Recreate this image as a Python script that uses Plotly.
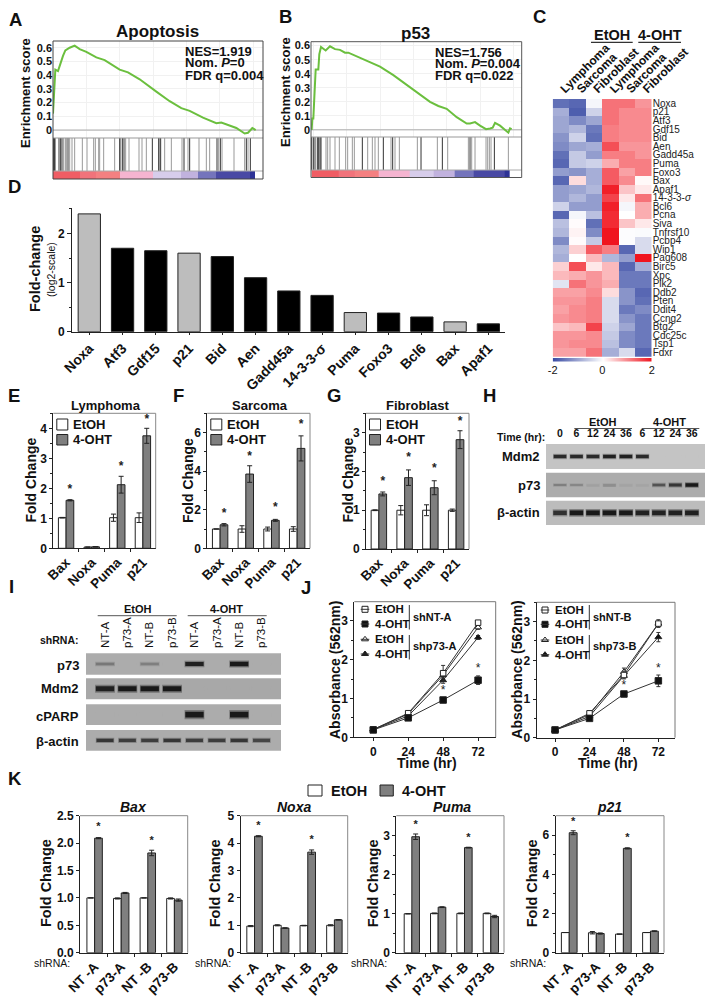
import plotly.graph_objects as go

W, H = 714, 997
FONT = "Liberation Sans"
DARK = "#222222"
GRAYBAR = "#7f7f7f"

# ---------- data ----------
es_a_rank = [160,163,167,175,180,190,197,210,225,240,260,290,315,360,385,420,470,510,545,570,610,650,665,690,710,735,745,758,768]
es_a_val = [0.12,0.3,0.44,0.43,0.47,0.54,0.58,0.60,0.615,0.59,0.57,0.53,0.51,0.44,0.42,0.37,0.28,0.21,0.16,0.14,0.09,0.05,0.055,0.03,0.015,-0.025,-0.02,0.015,0.0]
hits_a_dark = [160,162,164,166,178,183,187,205,360,368,373,458,477,483,553,570,652,662,740,752]
hits_a_gray = [192,197,200,210,217,225,248,262,282,287,297,300,312,345,363,378,388,418,427,440,480,495,515,547,565,598,620,630,657,667,703,735,745]
es_b_rank = [155,157,160,163,167,175,178,183,197,210,225,240,255,265,285,305,325,360,400,440,480,510,535,560,590,620,630,645,660,678,690,698,705,720,745,750,755]
es_b_val = [0.0,0.08,0.08,0.3,0.43,0.43,0.54,0.59,0.565,0.595,0.575,0.57,0.55,0.55,0.53,0.505,0.49,0.45,0.39,0.32,0.25,0.2,0.17,0.15,0.09,0.045,0.045,0.055,0.03,0.005,0.01,0.015,0.05,0.03,-0.02,0.01,0.005]
hits_b_dark = [155,160,165,172,176,180,183,307,370,398,483,547,630,703]
hits_b_gray = [198,203,210,225,238,257,263,277,283,323,337,345,355,393,405,418,472,532,563,625,635,645,678,683,688,693,745]
metric_edges_a = [160,240,290,362,460,545,595,650,750,765]
metric_edges_b = [155,235,285,355,450,520,585,640,735,750]
metric_vals = [1.7,1.3,1.05,0.45,-0.2,-0.45,-1.05,-1.55,-2.0]
metric_scale = [[0,"rgb(45,50,150)"],[0.12,"rgb(75,75,165)"],[0.25,"rgb(120,120,190)"],[0.38,"rgb(190,175,220)"],[0.45,"rgb(215,205,235)"],[0.6,"rgb(245,185,215)"],[0.75,"rgb(245,130,130)"],[0.85,"rgb(240,110,120)"],[1,"rgb(240,75,80)"]]

genes = ["Noxa","p21","Atf3","Gdf15","Bid","Aen","Gadd45a","Puma","Foxo3","Bax","Apaf1","14-3-3-<i>σ</i>","Bcl6","Pcna","Siva","Tnfrsf10","Pcbp4","Wip1","Pag608","Birc5","Xpc","Plk2","Ddb2","Pten","Ddit4","Ccng2","Btg2","Cdc25c","Tsp1","Fdxr"]
heat_cols = ["Lymphoma","Sarcoma","Fibroblast","Lymphoma ","Sarcoma ","Fibroblast "]
heat_z = [
 [-1.6,-1.7,-0.1,1.2,1.2,0.9],[-0.9,-1.8,-0.5,1.2,1.0,1.0],[-1.0,-1.3,-1.0,1.2,1.0,1.0],
 [-1.0,-0.8,-1.5,1.1,1.0,1.0],[-1.2,-0.5,-1.6,1.1,1.0,1.0],[-1.3,-1.0,-0.9,1.5,0.9,0.9],
 [-1.6,-0.6,-1.1,1.1,1.1,0.9],[-1.7,-0.6,-0.5,0.7,1.1,1.1],[-1.1,-1.2,-0.9,1.4,0.8,1.1],
 [-1.7,0.3,-0.9,1.4,1.0,0.05],[-1.1,-1.0,-0.8,1.9,0.5,0.2],[-1.1,-0.8,-1.1,1.6,0.2,1.2],
 [-0.5,-1.1,-1.1,1.9,-0.1,0.7],[-1.7,-0.1,-0.7,1.8,0.0,0.7],[-0.7,0.03,-1.6,1.8,0.5,0.2],
 [-0.8,0.1,-1.3,2.0,-0.03,-0.05],[-1.3,0.03,-0.6,2.0,-0.03,-0.4],[-0.8,0.4,1.4,1.1,-1.7,-0.4],
 [-0.9,0.0,0.6,-0.8,-1.1,2.0],[0.4,1.5,0.2,0.6,-1.7,-0.9],[0.6,0.7,0.9,0.6,-1.5,-1.5],
 [-0.3,1.2,0.9,0.7,-1.5,-1.5],[0.8,0.8,1.0,0.3,-1.2,-1.7],[0.9,0.9,1.1,-0.4,-1.2,-1.6],
 [0.8,1.0,1.1,-0.4,-1.5,-1.3],[0.9,1.0,1.1,-0.4,-1.2,-1.5],[0.5,0.6,1.6,-0.5,-1.0,-1.5],
 [0.9,0.9,1.0,-0.6,-1.3,-1.5],[0.9,1.0,1.0,-0.7,-1.3,-1.5],[0.8,0.8,1.2,-0.9,-0.4,-1.7]]
heat_scale = [[0,"rgb(58,76,165)"],[0.5,"rgb(255,255,255)"],[1,"rgb(240,20,30)"]]
ramp_vals = [-2,-1,0,1,2]

d_genes = ["Noxa","Atf3","Gdf15","p21","Bid","Aen","Gadd45a","14-3-3-σ","Puma","Foxo3","Bcl6","Bax","Apaf1"]
d_vals = [2.4,1.7,1.65,1.6,1.53,1.1,0.83,0.74,0.39,0.38,0.3,0.2,0.16]
d_gray = ["Noxa","p21","Puma","Bax"]

ef_cats = ["Bax","Noxa","Puma","p21"]
e_eto = [1.02,0.04,1.02,1.02]; e_eto_err = [0.01,0.0,0.12,0.16]
e_oht = [1.6,0.05,2.12,3.75]; e_oht_err = [0.02,0.0,0.28,0.25]
e_star = [1.94,None,2.72,4.28]
f_eto = [1.0,1.0,1.0,1.0]; f_eto_err = [0.0,0.17,0.1,0.12]
f_oht = [1.22,3.85,1.45,5.18]; f_oht_err = [0.06,0.43,0.05,0.65]
f_star = [1.76,4.74,2.07,6.38]
g_eto = [1.0,1.0,1.0,1.0]; g_eto_err = [0.01,0.12,0.14,0.03]
g_oht = [1.42,1.84,1.58,2.82]; g_oht_err = [0.05,0.2,0.18,0.23]
g_star = [1.74,2.34,2.07,3.27]

h_times = ["0","6","12","24","36","6","12","24","36"]
h_mdm2 = [0.9,0.9,0.9,0.95,0.95,0.9,0,0,0]
h_p73 = [0.3,0.25,0.08,0.2,0.06,0.05,0.6,0.8,1.0]
h_actin = [0.85,1.0,1.0,1.0,1.0,0.95,0.95,0.95,0.95]

i_lanes = ["NT-A","p73-A","NT-B","p73-B","NT-A","p73-A","NT-B","p73-B"]
i_p73 = [0.35,0,0.3,0,0.95,0,1.0,0]
i_mdm2 = [0.95,1.0,1.0,1.0,0,0,0,0]
i_cparp = [0,0,0,0,1.0,0,1.0,0]
i_actin = [0.8,0.75,0.75,0.8,0.75,0.75,0.8,0.7]

time_hr = [0,24,48,72]
ja_eto_nt = [0.2,0.62,1.65,2.95]; ja_eto_nt_err = [0,0.03,0.2,0.05]
ja_oht_nt = [0.19,0.5,0.96,1.47]; ja_oht_nt_err = [0,0.02,0.05,0.11]
ja_eto_p73 = [0.2,0.6,1.6,2.83]; ja_eto_p73_err = [0,0.02,0.1,0.05]
ja_oht_p73 = [0.2,0.55,1.47,2.57]; ja_oht_p73_err = [0,0.02,0.08,0.05]
ja_star = [None,None,1.18,1.75]
jb_eto_nt = [0.2,0.63,1.62,2.95]; jb_eto_nt_err = [0,0.05,0.1,0.05]
jb_oht_nt = [0.2,0.5,1.13,1.47]; jb_oht_nt_err = [0,0.03,0.05,0.15]
jb_eto_p73 = [0.2,0.6,1.7,2.95]; jb_eto_p73_err = [0,0.03,0.1,0.1]
jb_oht_p73 = [0.2,0.55,1.6,2.6]; jb_oht_p73_err = [0,0.03,0.05,0.12]
jb_star = [None,None,1.34,1.78]

k_cats = ["NT -A","p73-A","NT -B","p73-B"]
kb_eto = [1.0,0.99,1.0,0.99]; kb_eto_err = [0,0.01,0,0.01]
kb_oht = [2.09,1.09,1.82,0.96]; kb_oht_err = [0.01,0.01,0.05,0.02]
kb_star = [2.28,None,2.03,None]
kn_eto = [0.97,1.0,0.99,1.0]; kn_eto_err = [0.02,0.02,0.01,0.02]
kn_oht = [4.25,0.9,3.67,1.2]; kn_oht_err = [0.02,0.01,0.08,0.01]
kn_star = [4.6,None,4.1,None]
kp_eto = [1.0,1.01,1.01,1.01]; kp_eto_err = [0,0.01,0.01,0.01]
kp_oht = [2.98,1.17,2.7,0.93]; kp_oht_err = [0.07,0.01,0.01,0.03]
kp_star = [3.28,None,2.94,None]
k2_eto = [1.03,1.02,0.95,1.03]; k2_eto_err = [0,0.06,0,0]
k2_oht = [6.13,0.98,5.33,1.1]; k2_oht_err = [0.1,0.03,0.03,0.02]
k2_star = [6.67,None,5.85,None]

# ---------- helpers ----------
fig = go.Figure()
layout = {}
annots = []
shapes = []
_n = [1]
OV = 90


def base(**kw):
    d = dict(showgrid=False, zeroline=False, showline=False, ticks="", showticklabels=False, automargin=False)
    d.update(kw)
    return d


def axes(x0, y0, x1, y1, xa, ya):
    _n[0] += 1
    n = _n[0]
    layout[f"xaxis{n}"] = dict(domain=[x0 / W, x1 / W], anchor=f"y{n}", **xa)
    layout[f"yaxis{n}"] = dict(domain=[1 - y1 / H, 1 - y0 / H], anchor=f"x{n}", **ya)
    return f"x{n}", f"y{n}"


def T(x, y, text, size=12, bold=True, anchor="center", angle=0, italic=False, color="#111111"):
    f = dict(family=FONT, size=size, color=color)
    if bold:
        f["weight"] = 700
    if italic:
        f["style"] = "italic"
    annots.append(dict(x=x, y=y, xref=f"x{OV}", yref=f"y{OV}", text=text, showarrow=False, font=f,
                       xanchor=anchor, yanchor="middle", textangle=angle))


def L(x0, y0, x1, y1, color="#555555", width=1):
    shapes.append(dict(type="line", x0=x0, y0=y0, x1=x1, y1=y1, xref=f"x{OV}", yref=f"y{OV}",
                       line=dict(color=color, width=width), layer="above"))


def R(x0, y0, x1, y1, line="#555555", fill="rgba(0,0,0,0)", width=1):
    shapes.append(dict(type="rect", x0=x0, y0=y0, x1=x1, y1=y1, xref=f"x{OV}", yref=f"y{OV}",
                       line=dict(color=line, width=width), fillcolor=fill, layer="above"))


tickf = dict(family=FONT, size=12, color="#111111", weight=700)


def gsea(x0, x1, y_top, y_mid, y_line, y_bot, xr, yr, rank, val, dark, gray, edges):
    grid = dict(showgrid=True, gridcolor="#f1f1f1", gridwidth=1)
    xa, ya = axes(x0, y_top, x1, y_mid, base(range=xr, dtick=100, tick0=160, **grid),
                  base(range=yr, tickvals=[0, .1, .2, .3, .4, .5, .6], ticktext=["0", "0.1", "0.2", "0.3", "0.4", "0.5", "0.6"],
                       showticklabels=True, ticklen=0, tickfont=dict(family=FONT, size=11, color="#111111", weight=700),
                       **grid))
    fig.add_trace(go.Scatter(x=xr, y=[0, 0], mode="lines", line=dict(color="#aaaaaa", width=1), xaxis=xa, yaxis=ya, showlegend=False))
    fig.add_trace(go.Scatter(x=rank, y=val, mode="lines", line=dict(color="#6bbf3e", width=2), xaxis=xa, yaxis=ya, showlegend=False))
    xa, ya = axes(x0, y_mid, x1, y_line, base(range=xr), base(range=[0, 1]))
    for hits, col in ((gray, "#999999"), (dark, "#333333")):
        xs, ys = [], []
        for h in hits:
            xs += [h, h, None]
            ys += [0, 1, None]
        fig.add_trace(go.Scatter(x=xs, y=ys, mode="lines", line=dict(color=col, width=1), xaxis=xa, yaxis=ya, showlegend=False))
    xa, ya = axes(x0, y_line, x1, y_bot, base(range=xr), base(range=[0, 1]))
    fig.add_trace(go.Heatmap(x=edges, y=[0, 1], z=[metric_vals], colorscale=metric_scale, zmin=-2, zmax=2, showscale=False, xaxis=xa, yaxis=ya))
    L(x0, y_mid, x1, y_mid, "#999999")
    L(x0, y_line, x1, y_line, "#aaaaaa")


def sig_bars(box, ymax, cats, eto, eto_e, oht, oht_e, stars, dtick, minor, xr=(-0.5, 3.5), w=0.3,
             fsize=13.5, star_size=12, tickfmt=None):
    x0, y0, x1, y1 = box
    xa, ya = axes(x0, y0, x1, y1,
                  base(range=list(xr), tickvals=[0, 1, 2, 3], ticktext=cats, showticklabels=True, tickangle=-45,
                       tickfont=dict(family=FONT, size=fsize, color="#111111", weight=700), showline=True, linecolor=DARK, linewidth=1,
                       minor=dict(tickvals=[0.5, 1.5, 2.5], ticks="outside", ticklen=3, tickcolor=DARK)),
                  base(range=[0, ymax], dtick=dtick, showticklabels=True, tickfont=tickf, ticks="outside", ticklen=3, tickcolor=DARK,
                       showline=True, linecolor=DARK, linewidth=1, tickformat=tickfmt,
                       minor=dict(dtick=minor, ticks="outside", ticklen=2, tickcolor=DARK) if minor else None))
    idx = list(range(len(cats)))
    for vals, errs, col, off in ((eto, eto_e, "white", -w / 2), (oht, oht_e, GRAYBAR, w / 2)):
        fig.add_trace(go.Bar(x=[i + off for i in idx], y=vals, width=w,
                             marker=dict(color=col, line=dict(color=DARK, width=1)),
                             error_y=dict(type="data", array=errs, color=DARK, thickness=1, width=2.5),
                             xaxis=xa, yaxis=ya, showlegend=False))
    sx = [i + w / 2 for i, s in zip(idx, stars) if s is not None]
    sy = [s for s in stars if s is not None]
    fig.add_trace(go.Scatter(x=sx, y=sy, mode="text", text=["*"] * len(sx), textposition="middle center",
                             textfont=dict(family=FONT, size=star_size, color="#222222", weight=700),
                             xaxis=xa, yaxis=ya, showlegend=False, cliponaxis=False))
    L(x0, y0, x1, y0, "#888888")
    L(x1, y0, x1, y1, "#888888")


def blot(box, bg, vals, lane_range, band_w, thick, tick=None, tickangle=0, tickfont=None):
    x0, y0, x1, y1 = box
    xo = dict(range=lane_range)
    if tick is not None:
        xo.update(side="top", tickvals=list(range(len(tick))), ticktext=tick, showticklabels=True, tickangle=tickangle,
                  tickfont=tickfont, ticks="outside", ticklen=2, tickcolor="rgba(0,0,0,0)")
    xa, ya = axes(x0, y0, x1, y1, base(**xo), base(range=[0, 1]))
    r, g, b = bg
    lanes = list(range(len(vals)))
    shapes.insert(0, dict(type="rect", x0=x0 / W, y0=1 - y0 / H, x1=x1 / W, y1=1 - y1 / H, xref="paper", yref="paper",
                          line=dict(width=0), fillcolor=f"rgb({r},{g},{b})", layer="below"))

    def mix(v):
        return f"rgb({int(r + (25 - r) * v)},{int(g + (25 - g) * v)},{int(b + (25 - b) * v)})"
    halo = [0.35 * v for v in vals]
    t_h = [thick * 1.6 * (0.5 + 0.5 * v) for v in vals]
    t_c = [thick * (0.45 + 0.55 * v) for v in vals]
    fig.add_trace(go.Bar(x=lanes, y=t_h, base=[0.5 - t / 2 for t in t_h], width=band_w * 1.08,
                         marker=dict(color=[mix(v) for v in halo], line=dict(width=0)), xaxis=xa, yaxis=ya, showlegend=False))
    fig.add_trace(go.Bar(x=lanes, y=t_c, base=[0.5 - t / 2 for t in t_c], width=band_w,
                         marker=dict(color=[mix(v) for v in vals], line=dict(width=0)), xaxis=xa, yaxis=ya, showlegend=False))


# ---------- A, B ----------
gsea(53, 263, 41, 138, 171, 179, [160, 790], [-0.058, 0.649], es_a_rank, es_a_val, hits_a_dark, hits_a_gray, metric_edges_a)
R(53, 41, 263, 179, "#444444")
T(157, 31.5, "Apoptosis", 17)
T(25, 93, "Enrichment score", 13, angle=-90)
for y, s in zip((51.7, 62.5, 75), ("NES=1.919", "Nom. <i>P</i>=0", "FDR q=0.004")):
    T(182.7, y, s, 13, anchor="left")

gsea(311, 521.7, 41.7, 137, 170, 177.5, [153, 785], [-0.051, 0.628], es_b_rank, es_b_val, hits_b_dark, hits_b_gray, metric_edges_b)
R(311, 41.7, 521.7, 177.5, "#555555")
T(415.5, 33, "p53", 17)
T(285, 92, "Enrichment score", 13, angle=-90)
for y, s in zip((52.3, 63.5, 75), ("NES=1.756", "Nom. <i>P</i>=0.004", "FDR q=0.022")):
    T(432.7, y, s, 13, anchor="left")

# ---------- C ----------
xa, ya = axes(552.7, 99, 651.7, 356.7,
              base(range=[-0.5, 5.5], side="top", tickvals=list(range(6)), ticktext=[c.strip() for c in heat_cols], showticklabels=True,
                   tickangle=-45, tickfont=dict(family=FONT, size=12, color="#111111", weight=700)),
              base(range=[29.5, -0.5], side="right", tickvals=list(range(30)), ticktext=genes, showticklabels=True,
                   tickfont=dict(family=FONT, size=10, color="#222222")))
fig.add_trace(go.Heatmap(z=heat_z, colorscale=heat_scale, zmin=-2, zmax=2, showscale=False, xaxis=xa, yaxis=ya))
xa, ya = axes(552.7, 358, 651.7, 361.5,
              base(range=[-2, 2], tickvals=[-2, 0, 2], ticktext=["-2", "0", "2"], showticklabels=True, ticklen=0,
                   tickfont=dict(family=FONT, size=11, color="#111111")),
              base(range=[-0.5, 0.5]))
fig.add_trace(go.Heatmap(x=ramp_vals, y=[0], z=[ramp_vals], colorscale=heat_scale, zmin=-2, zmax=2, zsmooth="best", showscale=False, xaxis=xa, yaxis=ya))
T(611.7, 35, "EtOH", 14.5)
T(660, 35, "4-OHT", 14.5)
L(591, 42.3, 632.7, 42.3, "#333333", 1.2)
L(638.3, 42.3, 681, 42.3, "#333333", 1.2)

# ---------- D ----------
xa, ya = axes(72, 208, 505, 331.7,
              base(range=[-0.52, 12.5], tickvals=list(range(13)), ticktext=d_genes, showticklabels=True, tickangle=-45,
                   tickfont=dict(family=FONT, size=14, color="#111111", weight=700), ticks="outside", ticklen=2, tickcolor=DARK,
                   showline=True, linecolor=DARK, linewidth=1),
              base(range=[0, 2.52], dtick=1, showticklabels=True, tickfont=tickf, ticks="outside", ticklen=4, tickcolor=DARK,
                   showline=True, linecolor=DARK, linewidth=1, minor=dict(dtick=0.5, ticks="outside", ticklen=2, tickcolor=DARK)))
fig.add_trace(go.Bar(x=list(range(13)), y=d_vals, width=0.67,
                     marker=dict(color=["#bdbdbd" if g in d_gray else "#000000" for g in d_genes], line=dict(color="#222222", width=1)),
                     xaxis=xa, yaxis=ya, showlegend=False))
T(35, 269, "Fold-change", 14.5, angle=-90)
T(51, 270, "(log2-scale)", 10.5, bold=False, angle=-90)

# ---------- E F G ----------
ef_boxes = [(53.3, 413.3, 155.7, 548.3), (207.3, 413.3, 310, 548.3), (366, 413.3, 469, 549)]
sig_bars(ef_boxes[0], 4.5, ef_cats, e_eto, e_eto_err, e_oht, e_oht_err, e_star, 1, 0.5)
sig_bars(ef_boxes[1], 7, ef_cats, f_eto, f_eto_err, f_oht, f_oht_err, f_star, 2, 1)
sig_bars(ef_boxes[2], 3.5, ef_cats, g_eto, g_eto_err, g_oht, g_oht_err, g_star, 1, 0.5)
for (x0, y0, x1, y1), title, tx, ftx in zip(ef_boxes, ("Lymphoma", "Sarcoma", "Fibroblast"), (106, 260, 418), (30, 187.5, 347)):
    T(tx, 405, title, 13)
    T(ftx, 480.5, "Fold Change", 14, angle=-90)
    R(x0 + 3.5, 419, x0 + 14.5, 430, DARK, "white")
    R(x0 + 3.5, 434.5, x0 + 14.5, 445, DARK, GRAYBAR)
    T(x0 + 18, 424.5, "EtOH", 13, anchor="left")
    T(x0 + 18, 439.8, "4-OHT", 13, anchor="left")

# ---------- H ----------
hf = dict(family=FONT, size=10.5, color="#111111", weight=700)
blot((546, 444, 705, 469), (196, 196, 196), h_mdm2, [-0.85, 8.8], 0.77, 0.14, tick=h_times, tickfont=hf)
blot((546, 472.7, 705, 497.3), (172, 172, 172), h_p73, [-0.85, 8.8], 0.77, 0.14)
blot((546, 500.7, 705, 525), (188, 188, 188), h_actin, [-0.85, 8.8], 0.82, 0.2)
T(547, 436.7, "Time (hr):", 10.5, anchor="right")
T(602.7, 422, "EtOH", 11)
T(669, 422, "4-OHT", 11)
L(574.3, 428.5, 632, 428.5, "#555555")
L(641.7, 428.5, 699.3, 428.5, "#555555")
for y, s in zip((456.7, 485.7, 512), ("Mdm2", "p73", "β-actin")):
    T(541.7, y, s, 13, anchor="right")

# ---------- I ----------
iff = dict(family=FONT, size=11.5, color="#111111")
blot((86, 653.3, 281, 674.7), (172, 172, 172), i_p73, [-0.85, 7.87], 0.82, 0.2, tick=i_lanes, tickangle=-90, tickfont=iff)
blot((86, 678.3, 281, 699.3), (168, 168, 168), i_mdm2, [-0.85, 7.87], 0.82, 0.24)
blot((86, 704.3, 281, 725), (172, 172, 172), i_cparp, [-0.85, 7.87], 0.82, 0.28)
blot((86, 730, 281, 750.7), (172, 172, 172), i_actin, [-0.85, 7.87], 0.76, 0.18)
T(137.7, 609, "EtOH", 11)
T(226, 609, "4-OHT", 11)
L(97.7, 615.7, 176.7, 615.7, "#555555")
L(187.7, 615.7, 266.7, 615.7, "#555555")
T(81, 640, "shRNA:", 10.5, anchor="right")
for y, s in zip((665.7, 688.7, 716, 741), ("p73", "Mdm2", "cPARP", "β-actin")):
    T(81, y, s, 13, anchor="right")


# ---------- J ----------
def growth(box, xr, yr, series, stars):
    x0, y0, x1, y1 = box
    xa, ya = axes(x0, y0, x1, y1,
                  base(range=xr, tickvals=time_hr, showticklabels=True, tickfont=tickf, ticks="outside", ticklen=3, tickcolor=DARK,
                       showline=True, linecolor=DARK, linewidth=1),
                  base(range=yr, dtick=1, showticklabels=True, tickfont=tickf, ticks="outside", ticklen=3, tickcolor=DARK,
                       showline=True, linecolor=DARK, linewidth=1, minor=dict(dtick=0.5, ticks="outside", ticklen=2, tickcolor=DARK)))
    for vals, errs, sym, size, fill in series:
        fig.add_trace(go.Scatter(x=time_hr, y=vals, mode="lines+markers", line=dict(color="#333333", width=1),
                                 marker=dict(symbol=sym, size=size, color=fill, line=dict(color="#222222", width=1)),
                                 error_y=dict(type="data", array=errs, color="#333333", thickness=1, width=2),
                                 xaxis=xa, yaxis=ya, showlegend=False))
    sx = [t for t, s in zip(time_hr, stars) if s is not None]
    sy = [s for s in stars if s is not None]
    fig.add_trace(go.Scatter(x=sx, y=sy, mode="text", text=["*"] * len(sx), textposition="middle center",
                             textfont=dict(family=FONT, size=12, color="#222222"), xaxis=xa, yaxis=ya, showlegend=False))
    L(x0, y0, x1, y0, "#777777")
    L(x1, y0, x1, y1, "#777777")


growth((354.3, 601.7, 495.7, 737.3), [-13, 84.1], [0, 3.49],
       [(ja_eto_p73, ja_eto_p73_err, "triangle-up", 6, "white"), (ja_oht_p73, ja_oht_p73_err, "triangle-up", 6, "#111111"),
        (ja_eto_nt, ja_eto_nt_err, "square", 5.5, "white"), (ja_oht_nt, ja_oht_nt_err, "square", 6.5, "#111111")], ja_star)
growth((536.7, 602.3, 675, 737.7), [-12.8, 83.6], [0, 3.5],
       [(jb_eto_p73, jb_eto_p73_err, "triangle-up", 6, "white"), (jb_oht_p73, jb_oht_p73_err, "triangle-up", 6, "#111111"),
        (jb_eto_nt, jb_eto_nt_err, "square", 5.5, "white"), (jb_oht_nt, jb_oht_nt_err, "square", 6.5, "#111111")], jb_star)

leg_x, leg_y, leg_sym, leg_fill = [], [], [], []
for gx0, gx1, tx, bx, sx, ys, ly, nt, p in (
        (360.7, 369.3, 372.7, 409.3, 411, (609.3, 624, 639.3, 654), (616.7, 646), "shNT-A", "shp73-A"),
        (540.7, 549.3, 553.3, 589.3, 591, (610, 624.3, 640, 654.7), (616.7, 646), "shNT-B", "shp73-B")):
    T(tx, ys[0], "EtOH", 11.5, anchor="left")
    T(tx, ys[1], "4-OHT", 11.5, anchor="left")
    T(tx, ys[2], "EtOH", 11.5, anchor="left")
    T(tx, ys[3], "4-OHT", 11.5, anchor="left")
    L(bx, 605, bx, 629.5, "#333333")
    L(bx, 635, bx, 659.5, "#333333")
    T(sx, ly[0], nt, 11, anchor="left")
    T(sx, ly[1], p, 11, anchor="left")
    for yy, sym, fill in zip(ys, ("square", "square", "triangle-up", "triangle-up"), ("white", "#111111", "white", "#111111")):
        L(gx0, yy, gx1, yy, "#333333")
        leg_x.append((gx0 + gx1) / 2)
        leg_y.append(yy)
        leg_sym.append(sym)
        leg_fill.append(fill)
T(335, 670, "Absorbance (562nm)", 14, angle=-90)
T(516.7, 670, "Absorbance (562nm)", 14, angle=-90)
T(426.7, 763, "Time (hr)", 14)
T(607.7, 763, "Time (hr)", 14)

# ---------- K ----------
k_boxes = [(80, 815.7, 187.7, 952.7), (240.7, 815.7, 347.7, 952.7), (396.3, 815.7, 504, 952.7), (555.7, 815.7, 664, 952.7)]
sig_bars(k_boxes[0], 2.5, k_cats, kb_eto, kb_eto_err, kb_oht, kb_oht_err, kb_star, 0.5, None, xr=(-0.55, 3.5), w=0.29, tickfmt=".1f", star_size=11)
sig_bars(k_boxes[1], 5, k_cats, kn_eto, kn_eto_err, kn_oht, kn_oht_err, kn_star, 1, None, xr=(-0.52, 3.5), w=0.29, star_size=11)
sig_bars(k_boxes[2], 3.52, k_cats, kp_eto, kp_eto_err, kp_oht, kp_oht_err, kp_star, 1, 0.5, xr=(-0.59, 3.5), w=0.29, star_size=11)
sig_bars(k_boxes[3], 7, k_cats, k2_eto, k2_eto_err, k2_oht, k2_oht_err, k2_star, 2, 1, xr=(-0.5, 3.5), w=0.29, star_size=11)
for (x0, y0, x1, y1), title, tx, ftx in zip(k_boxes, ("Bax", "Noxa", "Puma", "p21"), (133, 294, 451.7, 609.7), (46.7, 215, 373, 532)):
    T(tx, 806.7, title, 14, italic=True)
    T(ftx, 883.3, "Fold Change", 14.5, angle=-90)
    T(x0 - 7.7, 962.7, "shRNA:", 10.5, bold=False, anchor="right")
R(308, 785, 322, 796, DARK, "white")
T(329.3, 790.7, "EtOH", 14.5, anchor="left")
R(380, 785, 393.3, 796, DARK, GRAYBAR)
T(400, 790.7, "4-OHT", 14.5, anchor="left")

# ---------- panel letters ----------
for s, x, y in (("A", 15, 19.5), ("B", 285, 16), ("C", 539, 16), ("D", 14, 186), ("E", 14, 395), ("F", 178, 395), ("G", 334, 395),
                ("H", 489, 395), ("I", 11, 586), ("J", 306, 587), ("K", 15, 778)):
    T(x, y, s, 18.5)

# ---------- overlay ----------
fig.add_trace(go.Scatter(x=leg_x, y=leg_y, mode="markers",
                         marker=dict(symbol=leg_sym, size=6, color=leg_fill, line=dict(color="#222222", width=1)),
                         xaxis=f"x{OV}", yaxis=f"y{OV}", showlegend=False))
layout[f"xaxis{OV}"] = dict(domain=[0, 1], range=[0, W], visible=False, anchor=f"y{OV}", fixedrange=True, automargin=False)
layout[f"yaxis{OV}"] = dict(domain=[0, 1], range=[H, 0], visible=False, anchor=f"x{OV}", fixedrange=True, automargin=False)

fig.update_layout(template="none", width=W, height=H, margin=dict(l=0, r=0, t=0, b=0, pad=0), autosize=False, paper_bgcolor="white", plot_bgcolor="rgba(0,0,0,0)",
                  barmode="overlay", showlegend=False, font=dict(family=FONT), annotations=annots, shapes=shapes, **layout)
fig.write_html("out.html", config=dict(displayModeBar=False), post_script="document.body.style.margin='0';")
